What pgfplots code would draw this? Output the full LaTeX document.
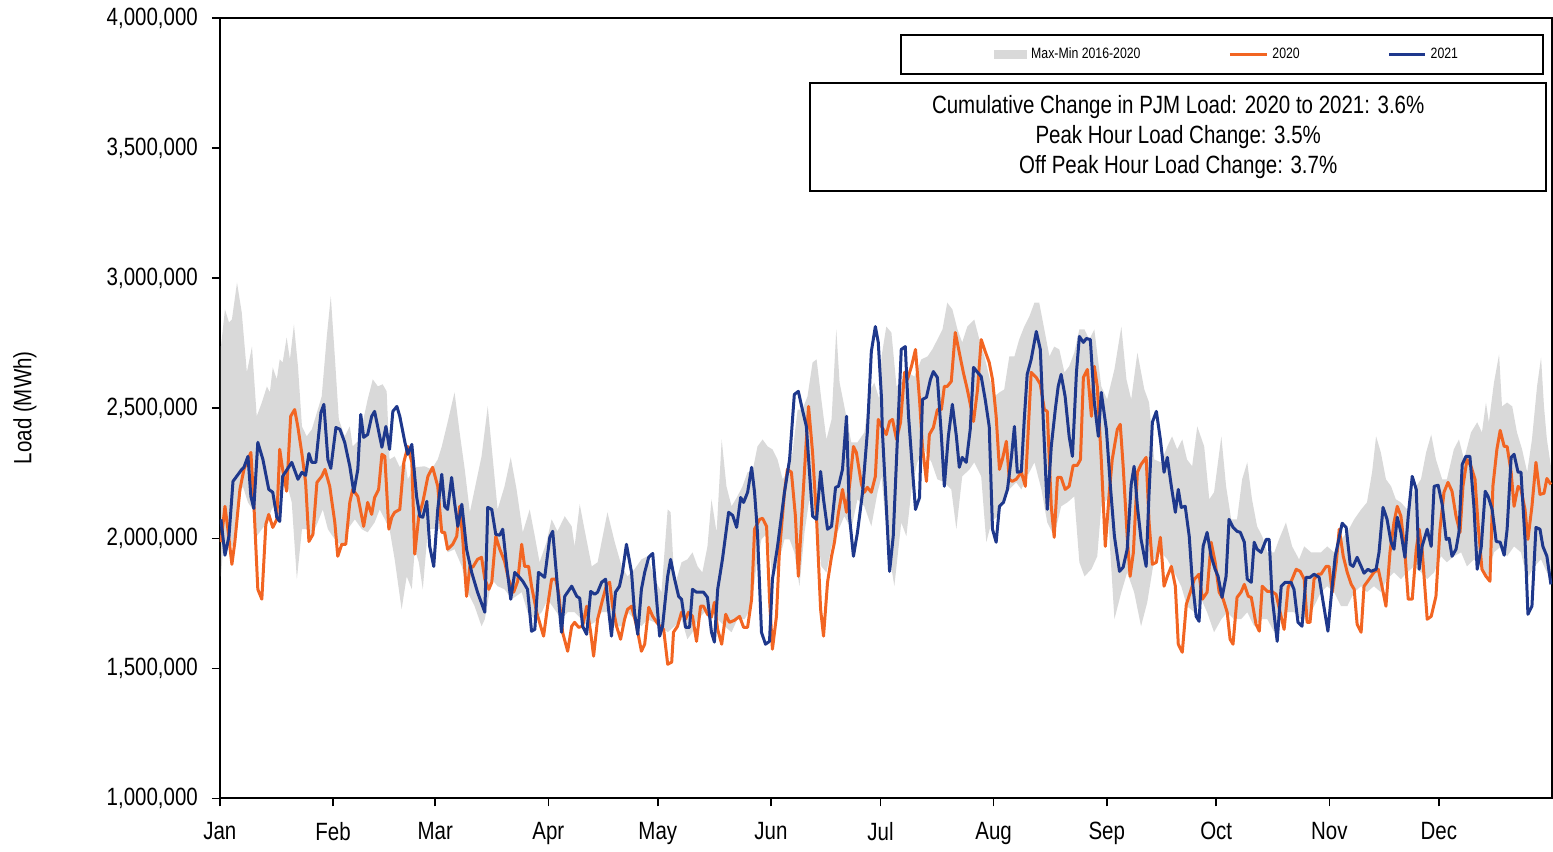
\documentclass[border=0pt]{standalone}
\usepackage{fontspec}
\setmainfont{Liberation Sans}[FakeStretch=0.82]
\usepackage{pgfplots}
\pgfplotsset{compat=1.18}
\usepackage{pgfplotstable}
\definecolor{c20}{RGB}{242,101,34}
\definecolor{c21}{RGB}{30,56,140}
\definecolor{band}{RGB}{217,217,217}

% Max-Min band: daily maximum (forward), then daily minimum (backward); load in thousand MWh
\pgfplotstableread{
d v
0.3 2737
1.4 2880
2.5 2830
3.3 2841
4.7 2983
6.0 2868
7.4 2638
8.8 2737
10.1 2469
11.5 2522
12.9 2584
13.7 2561
14.5 2657
15.6 2611
16.4 2688
17.2 2676
18.3 2772
19.2 2688
20.3 2822
21.4 2661
22.5 2430
23.8 2392
25.2 2419
26.6 2484
27.9 2545
29.3 2776
30.4 2930
31.5 2699
32.6 2457
34.2 2392
35.6 2430
36.4 2353
37.8 2373
39.2 2449
40.5 2534
41.9 2611
43.3 2584
44.6 2592
45.7 2565
46.5 2303
47.9 2315
49.3 2273
50.7 2303
51.5 2227
53.4 2273
56.1 2277
58.0 2265
59.7 2303
60.8 2353
62.4 2446
64.3 2561
65.7 2407
67.1 2265
68.5 2100
69.8 2188
71.7 2315
73.4 2507
74.8 2303
76.1 2111
78.0 2200
79.7 2311
81.3 2188
83.0 2023
84.9 2111
86.3 2008
87.6 1908
89.5 1985
90.9 2073
92.5 2027
94.5 2085
96.4 2046
97.2 1969
98.6 2131
99.9 2035
101.9 1892
103.5 1908
104.9 2008
106.2 2100
108.2 1985
110.1 1892
111.7 1854
113.6 1881
115.5 1919
117.2 1931
119.1 1843
121.0 1793
122.7 2111
123.5 2100
124.6 1816
126.5 1908
128.1 1919
129.5 1946
130.9 1892
132.2 1869
133.6 1969
134.7 2150
136.1 2023
137.5 2380
138.8 2200
140.2 2123
141.8 2161
143.2 2200
144.6 2254
145.9 2254
147.3 2353
148.7 2380
150.1 2353
151.4 2342
152.8 2303
154.2 2227
155.5 2254
156.9 2330
158.3 2495
159.6 2495
161.0 2545
162.4 2676
163.5 2688
164.8 2534
166.2 2380
167.6 2457
168.9 2803
169.8 2599
171.1 2507
173.0 2369
174.7 2369
176.6 2407
178.0 2561
179.3 2599
180.7 2534
181.3 2699
182.6 2814
184.0 2791
185.4 2584
186.7 2599
188.4 2638
190.3 2622
192.2 2688
193.9 2699
195.2 2726
196.6 2764
198.0 2803
199.3 2906
200.7 2880
202.1 2803
203.4 2753
204.8 2814
206.7 2841
208.1 2764
209.5 2699
210.8 2622
212.2 2545
213.6 2561
214.9 2572
216.3 2699
217.7 2699
219.0 2764
220.4 2814
221.8 2853
223.2 2906
224.5 2906
225.9 2803
227.3 2699
228.6 2737
230.0 2726
231.4 2638
232.7 2661
234.1 2714
235.5 2803
236.9 2803
238.2 2764
239.6 2803
241.5 2584
243.1 2534
245.1 2649
247.0 2814
248.4 2611
249.7 2534
251.4 2714
253.3 2572
254.6 2522
256.0 2303
257.9 2292
259.6 2353
260.9 2392
262.3 2342
263.7 2380
265.0 2303
266.4 2277
267.8 2430
269.7 2353
271.1 2150
272.4 2177
274.4 2392
275.7 2200
277.1 2073
278.7 2073
280.1 2227
281.5 2292
282.8 2150
284.2 2046
285.6 2008
287.0 1946
288.9 1946
290.2 1996
292.1 2061
293.8 1969
295.7 1919
297.1 1969
299.0 1946
301.7 1946
303.4 1969
305.3 1946
307.2 1996
308.9 2023
310.8 2073
312.7 2111
314.3 2138
315.7 2254
316.8 2392
318.1 2330
319.5 2227
320.9 2200
322.2 2150
323.6 2138
325.3 2111
327.2 2188
329.1 2227
330.5 2330
331.9 2399
333.2 2303
334.9 2227
336.2 2227
338.1 2342
339.5 2380
340.9 2303
342.8 2407
344.5 2446
345.8 2407
346.9 2522
347.7 2446
349.1 2599
350.5 2707
351.3 2507
352.7 2522
354.1 2507
355.4 2407
356.8 2342
358.2 2254
359.5 2380
360.9 2584
362.0 2695
362.8 2507
363.6 2380
364.7 2277
364.7 1843
363.6 1869
362.0 1919
360.1 1892
358.2 1843
356.5 1946
354.6 1969
352.7 1931
351.0 1969
349.1 1946
347.2 1843
345.5 1892
343.6 1919
341.7 1892
340.1 1946
338.1 1931
336.2 1908
334.6 1931
332.7 1869
330.8 1843
329.1 1869
327.2 1892
325.3 1869
323.6 1843
321.7 1869
319.8 1843
318.1 1793
316.2 1816
314.3 1793
312.7 1816
310.8 1793
308.9 1739
307.2 1739
305.3 1793
303.4 1816
301.7 1793
299.8 1739
297.9 1689
296.2 1689
294.3 1716
292.4 1716
290.8 1689
288.9 1639
287.0 1689
285.3 1689
283.4 1662
281.5 1716
279.8 1689
277.9 1689
276.0 1716
274.4 1689
272.4 1639
270.5 1716
268.9 1766
267.0 1716
265.0 1739
263.4 1816
261.5 1869
259.6 1919
257.9 1946
256.0 1919
254.1 1754
252.4 1662
250.5 1793
248.6 1869
247.0 1793
245.1 1689
243.1 2150
241.5 2123
240.4 1931
238.8 1881
236.9 1854
235.5 1908
234.1 2161
232.2 2138
230.5 2123
228.6 2008
226.7 2061
225.1 2188
223.2 2292
221.2 2238
219.6 2188
218.2 2215
216.3 2188
214.9 2150
213.0 2085
211.4 2061
210.0 1985
208.6 2238
206.7 2292
205.4 2265
203.4 2238
201.8 2035
200.4 2188
198.5 2215
196.6 2227
195.0 2292
193.0 2342
191.1 2292
189.5 2188
188.1 2008
186.7 2061
184.8 1816
182.9 1985
181.3 2238
180.2 2177
178.5 2046
176.6 2123
174.7 2150
173.0 2035
171.1 2085
169.2 2023
167.6 1969
166.2 1869
164.8 1892
163.5 2046
161.5 2150
160.2 2023
158.8 1816
157.4 1946
156.1 1996
154.7 1996
152.8 1892
151.4 1843
150.1 2023
148.4 1996
147.0 1892
145.7 1739
143.8 1689
141.8 1689
140.2 1639
138.3 1662
136.4 1689
134.7 1716
132.8 1716
130.9 1689
129.5 1639
128.1 1612
126.5 1689
124.6 1662
122.7 1639
121.0 1662
119.1 1677
117.2 1689
115.5 1662
113.6 1689
111.7 1716
110.1 1662
108.2 1662
106.2 1716
104.6 1716
102.7 1677
100.8 1662
99.1 1689
97.2 1716
95.3 1716
93.6 1689
91.7 1727
89.8 1766
88.2 1716
86.3 1689
84.3 1716
82.7 1793
80.0 1766
78.0 1804
76.1 1816
74.5 1843
72.6 1689
71.7 1662
69.8 1739
67.9 1793
66.3 1892
64.3 1958
62.4 1946
60.8 2035
58.9 2035
57.0 2035
55.6 1804
54.5 1908
53.4 1958
52.6 1804
51.2 1854
49.8 1727
47.9 1919
46.5 2035
45.2 2073
43.8 2111
42.4 2061
40.5 2023
38.9 2035
37.0 2073
35.0 2035
33.7 1969
32.3 1985
30.9 2008
29.6 2035
28.2 2111
26.8 2061
25.2 2008
23.8 2035
22.5 2035
21.1 1843
19.7 2138
18.3 2215
17.0 2188
15.6 2138
14.2 2111
12.9 2061
11.5 2035
10.1 2008
9.0 2111
7.7 2138
6.3 2200
4.9 2138
3.6 1969
2.2 1985
0.8 1946
0.3 1854
}\bandtbl

\pgfplotstableread{
d v
0.3 1985
1.4 2123
2.2 2035
3.3 1900
4.1 1985
5.5 2188
6.6 2265
7.7 2303
8.5 2330
9.3 2138
10.4 1804
11.5 1766
12.6 2054
13.4 2092
14.5 2042
15.6 2073
16.4 2342
17.2 2265
18.3 2181
19.4 2469
20.5 2495
21.4 2426
22.5 2323
23.5 2215
24.4 1988
25.5 2015
26.6 2215
27.9 2238
28.8 2265
30.1 2200
31.5 2061
32.3 1931
33.4 1977
34.5 1977
35.6 2138
36.4 2188
37.8 2161
39.4 2046
40.5 2138
41.6 2092
42.4 2157
43.5 2188
44.4 2323
45.2 2315
46.3 2035
47.1 2081
47.9 2100
49.3 2111
50.4 2292
51.5 2353
52.6 2292
53.4 1939
54.5 2085
55.6 2138
57.0 2238
58.3 2273
59.7 2200
60.8 2023
61.6 2023
62.4 1958
63.8 1977
64.9 2008
65.7 2123
66.5 2008
67.6 1777
68.5 1892
69.3 1889
70.6 1919
71.7 1927
72.6 1843
73.7 1804
74.5 1831
75.6 2008
76.7 1958
78.0 1912
79.1 1843
80.5 1793
81.6 1835
82.7 1977
83.5 1892
84.6 1892
85.4 1816
86.8 1716
87.9 1662
88.7 1624
89.8 1739
90.9 1843
92.0 1843
92.8 1793
93.9 1639
95.3 1566
96.4 1662
97.2 1677
98.3 1658
99.4 1662
100.5 1739
101.6 1639
102.4 1547
103.5 1689
104.9 1766
106.0 1823
106.8 1831
107.6 1739
108.7 1662
109.8 1612
110.9 1689
111.7 1727
112.8 1739
114.2 1662
115.5 1566
116.4 1593
117.5 1735
118.6 1700
119.7 1677
120.8 1658
121.6 1650
122.7 1516
123.8 1524
124.3 1639
125.4 1662
126.5 1716
127.6 1689
128.4 1716
129.5 1700
130.6 1604
131.7 1739
132.5 1739
133.6 1708
134.7 1697
135.5 1754
136.4 1650
137.5 1593
138.6 1708
139.6 1677
141.0 1685
142.4 1700
143.5 1658
144.6 1658
145.7 1766
146.5 2035
147.9 2073
148.7 2077
149.8 2046
150.6 1766
151.4 1574
152.5 1700
153.3 1946
154.7 2177
155.5 2265
156.6 2254
157.7 2085
158.5 1854
159.6 2123
160.7 2380
161.3 2507
162.4 2330
163.5 2073
164.6 1727
165.4 1624
166.5 1831
167.6 1931
168.4 1985
169.5 2100
170.6 2188
171.7 2100
172.8 2238
173.6 2353
174.4 2330
175.8 2207
176.6 2177
177.4 2196
178.5 2177
179.6 2238
180.4 2457
181.3 2430
182.6 2399
183.5 2449
184.3 2457
185.4 2380
186.5 2446
187.6 2638
188.4 2611
189.5 2661
190.6 2726
191.7 2534
192.5 2353
193.6 2219
194.4 2399
195.5 2426
196.6 2495
197.7 2495
198.5 2584
199.3 2584
200.4 2603
201.5 2791
202.6 2714
203.7 2638
204.8 2572
205.9 2495
206.5 2449
207.6 2572
208.6 2764
209.7 2718
210.8 2676
211.7 2611
212.7 2469
213.6 2265
214.4 2303
215.5 2373
216.3 2227
217.1 2219
218.2 2227
219.6 2254
220.7 2200
221.5 2419
222.3 2638
223.7 2618
224.8 2592
225.9 2495
226.7 2488
227.8 2123
228.6 2004
229.5 2234
230.5 2234
231.6 2188
232.7 2200
233.8 2280
234.9 2280
235.8 2303
236.6 2618
237.7 2649
238.8 2469
239.6 2661
240.4 2584
241.5 2303
242.6 1969
243.7 2177
244.5 2303
245.9 2419
246.7 2438
247.5 2277
248.6 2008
249.4 1854
250.3 1946
251.4 2254
252.4 2284
253.8 2311
254.6 2061
255.5 1900
256.6 1908
257.7 2004
258.7 1816
259.6 1854
260.7 1892
261.8 1816
262.6 1593
263.7 1562
264.8 1746
265.9 1793
267.0 1843
268.3 1862
269.2 1766
270.5 1793
271.6 1985
272.7 1908
273.8 1793
274.9 1766
276.0 1716
276.8 1612
277.6 1593
278.7 1773
279.8 1793
280.7 1823
281.8 1777
282.6 1773
283.9 1670
284.8 1643
285.6 1816
287.0 1796
288.1 1796
289.4 1785
290.5 1716
291.6 1650
292.7 1812
293.8 1843
294.9 1881
296.0 1873
297.1 1843
297.9 1677
298.7 1677
299.8 1843
300.9 1862
301.7 1862
303.1 1892
303.9 1892
304.8 1793
305.9 1908
306.7 2035
307.8 1931
308.9 1869
310.0 1823
310.8 1804
311.6 1670
312.7 1639
313.5 1816
314.9 1843
316.2 1869
317.4 1881
318.4 1816
319.5 1739
320.6 1946
321.7 2061
322.6 2123
323.6 2085
324.7 1946
325.6 1766
326.7 1766
327.8 1958
328.6 2035
329.4 1958
330.8 1689
331.9 1700
333.2 1777
334.3 2035
335.4 2177
336.5 2215
337.6 2181
338.7 2085
339.8 2023
340.6 2200
341.7 2303
342.8 2277
343.9 2227
344.7 2061
345.8 1881
346.9 1854
348.0 1835
348.8 2200
349.9 2342
350.8 2415
351.9 2353
352.7 2353
353.8 2254
354.6 2123
355.7 2200
356.5 2188
357.6 2111
358.4 1996
359.5 2123
360.6 2292
361.7 2169
362.8 2173
363.6 2230
364.7 2207
}\yeartwenty

\pgfplotstableread{
d v
0.3 2073
1.4 1935
2.5 2008
3.6 2219
6.0 2265
6.6 2273
7.7 2315
8.5 2161
9.3 2115
10.4 2369
11.8 2303
13.4 2188
14.5 2177
15.6 2081
16.4 2065
17.2 2238
19.7 2292
21.4 2227
22.5 2254
23.5 2242
24.4 2326
25.2 2292
26.3 2292
27.7 2484
28.5 2515
29.6 2303
30.4 2269
31.8 2426
32.9 2419
34.2 2369
35.6 2277
36.7 2177
37.8 2265
38.6 2476
39.4 2388
40.5 2399
41.6 2469
42.4 2488
44.4 2350
45.5 2430
46.5 2342
47.4 2488
48.5 2507
49.3 2469
50.7 2369
51.5 2323
52.6 2361
53.9 2161
54.8 2085
55.6 2081
56.7 2142
57.5 1969
58.6 1892
59.7 2111
60.8 2246
61.6 2123
62.4 2111
63.5 2234
64.3 2138
65.2 2046
66.3 2131
67.6 1958
69.0 1869
70.6 1793
72.6 1716
73.4 2119
74.5 2111
75.6 2015
76.7 2012
77.5 2035
78.6 1892
79.7 1766
80.8 1869
82.1 1850
83.0 1835
84.3 1804
85.4 1643
86.3 1650
87.3 1869
89.0 1850
90.4 2004
91.2 2027
92.5 1816
93.6 1639
94.5 1777
96.4 1816
97.8 1777
98.6 1770
99.4 1662
100.5 1631
101.6 1796
102.7 1785
103.5 1793
104.6 1831
105.7 1843
106.5 1727
107.3 1624
108.4 1793
109.5 1816
110.3 1869
111.4 1977
112.8 1869
113.6 1716
114.5 1631
115.5 1804
116.4 1869
117.5 1927
118.6 1942
119.7 1758
120.5 1624
121.3 1662
122.7 1854
123.5 1919
124.6 1843
125.7 1777
126.5 1766
127.6 1658
128.7 1658
129.5 1804
130.6 1793
132.5 1793
133.6 1773
134.7 1639
135.5 1601
136.4 1804
137.7 1919
139.4 2100
140.5 2088
141.6 2042
142.7 2157
143.5 2138
144.6 2177
145.7 2273
146.5 2177
147.3 2023
148.4 1639
149.5 1593
150.6 1604
151.4 1843
152.8 1969
154.7 2177
156.1 2303
157.4 2553
158.5 2565
159.6 2495
160.7 2430
161.5 2265
162.4 2085
163.5 2073
164.6 2257
165.4 2150
166.5 2035
167.6 2046
168.7 2196
169.5 2200
170.6 2265
171.7 2469
172.5 2085
173.6 1931
174.7 2023
176.1 2177
177.4 2407
178.5 2718
179.6 2814
180.4 2753
181.3 2534
181.5 2419
182.6 2123
183.5 1873
184.5 2008
185.6 2369
186.7 2726
187.8 2737
188.7 2469
189.5 2315
190.6 2111
191.7 2157
192.5 2534
193.6 2542
194.7 2611
195.5 2641
196.6 2618
197.7 2392
198.5 2200
199.6 2392
200.7 2515
201.8 2392
202.6 2273
203.4 2311
204.5 2292
205.6 2419
206.5 2657
207.6 2638
208.6 2622
209.7 2534
210.8 2430
211.7 2035
212.7 1985
213.6 2123
214.7 2138
215.8 2188
216.9 2315
217.7 2430
218.5 2254
219.6 2257
220.4 2457
221.2 2630
222.3 2688
223.7 2795
224.8 2726
225.6 2457
226.7 2111
227.8 2353
228.9 2495
229.7 2584
230.5 2630
231.6 2545
232.7 2392
233.6 2315
234.7 2638
235.5 2776
236.6 2753
237.4 2768
238.5 2764
239.6 2522
240.7 2392
241.5 2561
242.9 2419
244.0 2200
245.1 2008
246.5 1873
247.5 1889
248.6 1958
249.7 2207
250.5 2277
251.4 2123
252.4 1996
253.8 1892
254.6 2177
255.5 2446
256.6 2488
257.7 2380
258.7 2254
259.6 2311
260.7 2200
261.8 2100
262.6 2188
263.4 2119
264.5 2123
265.6 2008
266.4 1843
267.5 1700
268.3 1681
269.4 1969
270.5 2023
271.6 1931
272.7 1881
273.5 1854
274.6 1773
275.7 1854
276.5 2073
277.6 2042
278.7 2027
279.6 2023
280.7 1985
281.5 1843
282.6 1831
283.4 1985
284.2 1958
285.3 1946
286.7 1996
287.5 1996
288.3 1777
289.7 1604
290.8 1816
291.9 1831
293.5 1831
294.3 1804
295.4 1677
296.5 1662
297.6 1850
298.7 1850
299.8 1862
301.2 1850
302.3 1754
303.6 1643
304.5 1777
305.6 1931
306.7 2004
307.5 2058
308.6 2042
309.7 1900
310.5 1892
311.6 1927
312.7 1892
313.5 1866
314.6 1881
315.4 1873
316.8 1881
317.6 1946
318.7 2119
319.8 2073
320.9 1985
321.7 1958
322.6 2081
323.6 2023
324.7 1927
325.6 2085
326.7 2238
327.8 2188
328.6 1881
329.4 1969
330.8 2035
331.9 1969
332.7 2200
333.8 2204
334.9 2131
336.0 1996
336.8 2000
337.6 1931
338.7 1958
339.5 2023
340.4 2284
341.4 2315
342.5 2315
343.6 2123
344.5 1881
345.6 1965
346.7 2181
347.5 2161
348.6 2111
349.7 1988
350.8 1985
351.9 1935
352.7 2035
353.8 2311
354.6 2323
355.7 2254
356.5 2254
357.6 1996
358.4 1708
359.5 1739
360.6 2042
361.7 2035
362.5 1969
363.6 1931
364.7 1823
}\yeartwentyone

\begin{document}
\begin{tikzpicture}
\begin{axis}[
  at={(110pt,23pt)}, anchor=south west,
  scale only axis, width=666.5pt, height=390.5pt,
  xmin=0, xmax=365, ymin=1000, ymax=4000,
  xtick={0,31,59,90,120,151,181,212,243,273,304,334},
  xticklabels={Jan,Feb,Mar,Apr,May,Jun,Jul,Aug,Sep,Oct,Nov,Dec},
  ytick={1000,1500,2000,2500,3000,3500,4000},
  yticklabels={{1,000,000},{1,500,000},{2,000,000},{2,500,000},{3,000,000},{3,500,000},{4,000,000}},
  ticklabel style={font=\fontsize{12.5}{14}\selectfont},
  yticklabel style={xshift=-3.5pt},
  xticklabel style={yshift=-4.5pt},
  tick align=outside, major tick length=4pt,
  xtick pos=bottom, ytick pos=left,
  axis line style={line width=1pt},
  tick style={line width=0.8pt, black},
  legend style={at={(1,1)}, anchor=north east, xshift=-4pt, yshift=-8pt,
    draw=black, line width=1pt, font=\fontsize{7.5}{9}\selectfont,
    inner xsep=40.5pt, inner ysep=4.2pt,
    /tikz/every even column/.append style={column sep=42pt}},
  legend columns=3, legend cell align=left,
]
\addplot[fill=band, draw=none,
  legend image code/.code={\path (0pt,0pt); \fill[band] (6pt,-2.2pt) rectangle (22.5pt,2.2pt);}]
  table[x=d, y=v] {\bandtbl};
\addlegendentry{Max-Min 2016-2020}
\addplot[c20, line width=1.5pt, line join=round,
  legend image code/.code={\draw[c20, line width=1.5pt] (0pt,0pt) -- (18.5pt,0pt);}]
  table[x=d, y=v] {\yeartwenty};
\addlegendentry{2020}
\addplot[c21, line width=1.5pt, line join=round,
  legend image code/.code={\draw[c21, line width=1.5pt] (0pt,0pt) -- (18pt,0pt);}]
  table[x=d, y=v] {\yeartwentyone};
\addlegendentry{2021}
\end{axis}
\draw[line width=1pt] (405.5pt,327pt) rectangle (773.5pt,381pt);
\node[align=center, font=\fontsize{12.5}{15}\selectfont] at (589.5pt,354pt)
  {Cumulative Change in PJM Load: 2020 to 2021: 3.6\%\\
   Peak Hour Load Change: 3.5\%\\
   Off Peak Hour Load Change: 3.7\%};
\node[rotate=90, font=\fontsize{12.5}{14}\selectfont] at (12.5pt,218.5pt) {Load (MWh)};
\path (0,0) rectangle (776.5pt,422.5pt);
\end{tikzpicture}
\end{document}
